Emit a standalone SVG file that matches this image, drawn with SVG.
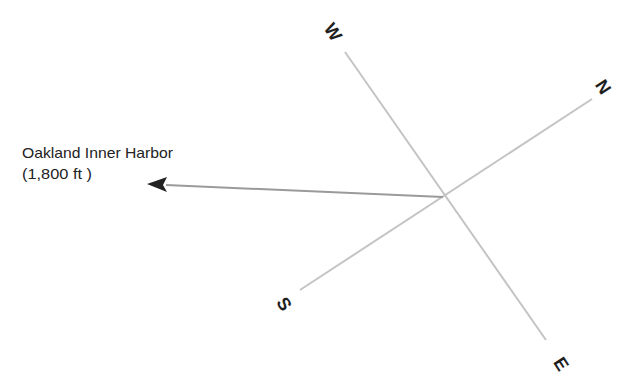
<svg xmlns="http://www.w3.org/2000/svg" width="637" height="381" viewBox="0 0 637 381">
<style>
.axis{stroke:#c4c4c4;stroke-width:2;fill:none}
.dir{font-family:"Liberation Sans",Arial,sans-serif;font-size:18px;font-weight:bold;fill:#1e1e1e;text-anchor:middle;dominant-baseline:central}
.lbl{font-family:"Liberation Sans",Arial,sans-serif;font-size:15px;fill:#222}
</style>
<rect width="637" height="381" fill="#fff"/>
<g id="connectors">
<line class="axis" x1="345" y1="52" x2="546" y2="340"/>
<line class="axis" x1="300" y1="290" x2="592" y2="99"/>
<path d="M443,197 L166,185" stroke="#9a9a9a" stroke-width="2" fill="none"/>
<path d="M147,184 L167,177 L163,185 L167,192 Z" fill="#222"/>
</g>
<g id="W"><text class="dir" transform="translate(333,32) rotate(57)">W</text></g>
<g id="N"><text class="dir" transform="translate(603,87) rotate(57)">N</text></g>
<g id="S"><text class="dir" transform="translate(284,304) rotate(57)">S</text></g>
<g id="E"><text class="dir" transform="translate(561,364) rotate(57)">E</text></g>
<g id="label">
<text class="lbl" x="22" y="158" textLength="151" lengthAdjust="spacingAndGlyphs">Oakland Inner Harbor</text>
<text class="lbl" x="22" y="179" textLength="70" lengthAdjust="spacingAndGlyphs">(1,800 ft )</text>
</g>
</svg>
